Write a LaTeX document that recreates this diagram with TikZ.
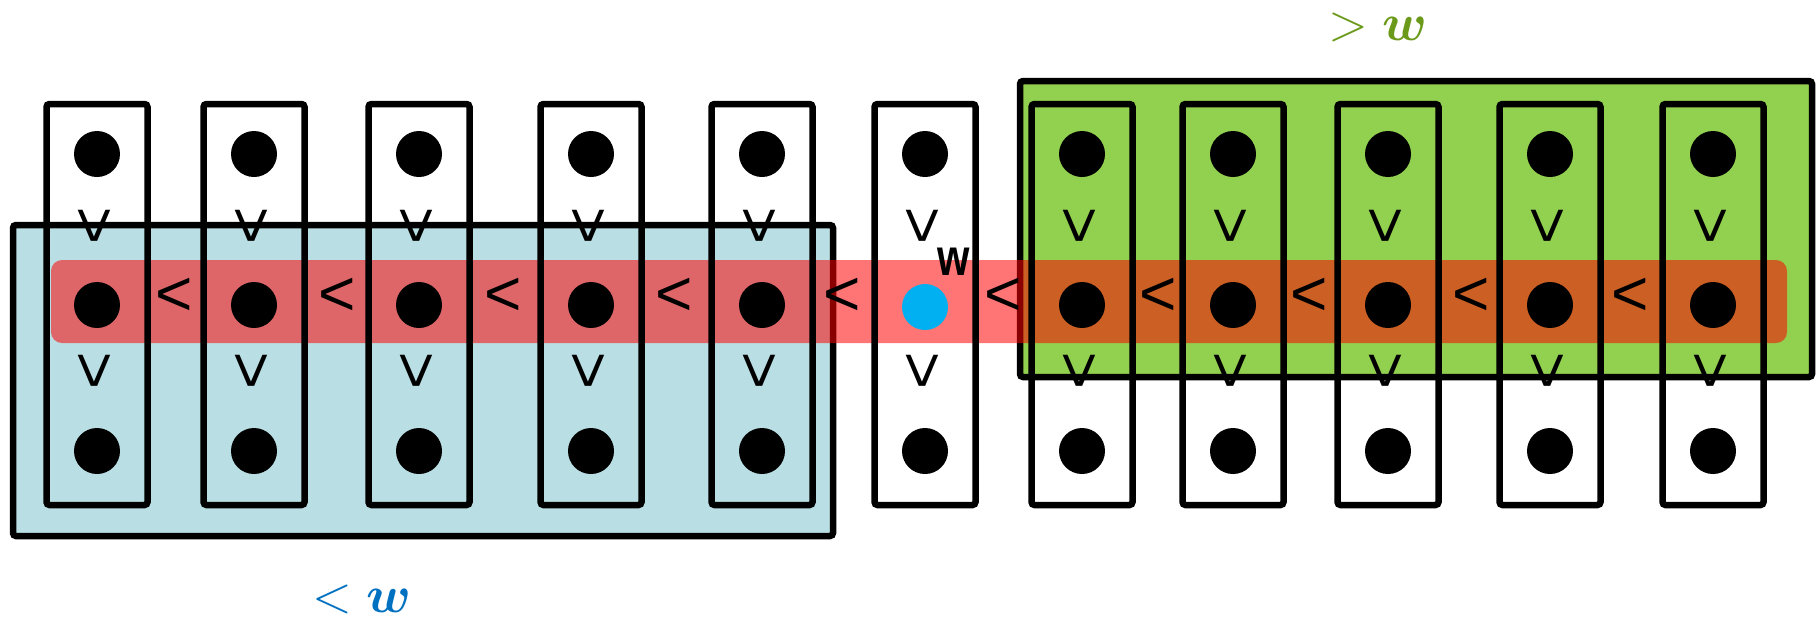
\documentclass[tikz,border=0pt]{standalone}
\usepackage{amsmath}
\usepackage{fontspec}
\setsansfont{Liberation Sans}
\definecolor{lowfill}{HTML}{B9DFE4}
\definecolor{highfill}{HTML}{92D050}
\definecolor{bandred}{HTML}{FF0000}
\definecolor{pivot}{HTML}{00B0F0}
\definecolor{lowtext}{HTML}{0070C0}
\definecolor{hightext}{HTML}{6B9A1A}
\tikzset{
  frame/.style={line width=6.5pt, rounded corners=3pt},
  colbox/.style={frame, draw=black, minimum width=101pt, minimum height=401pt, inner sep=0pt},
  dot/.style={circle, fill=black, minimum size=46pt, inner sep=0pt},
  rel/.style={font=\sffamily\fontsize{64}{64}\selectfont, inner sep=0pt},
  vrel/.style={rel, rotate=90},
  tag/.style={font=\Huge, inner sep=0pt, scale=2.1}
}
\begin{document}
\begin{tikzpicture}[x=1pt, y=-1pt]
\useasboundingbox (0,0) rectangle (1816,622);

% the two halves of the set
\draw[frame, fill=lowfill] (13,225) rectangle (833,536);
\draw[frame, fill=highfill] (1020,81) rectangle (1812,377);

% the middle row band
\fill[bandred, fill opacity=0.54, rounded corners=11pt] (51,260) rectangle (1787,343);

% the columns, each with three elements
\foreach \i/\x in {1/97, 2/254, 3/419, 4/591, 5/762, 6/925, 7/1082, 8/1233, 9/1388, 10/1550, 11/1713} {
  \node[colbox] (col\i) at (\x,304.5) {};
  \node[dot] (top\i) at (\x,154) {};
  \node[dot] (bot\i) at (\x,451) {};
  \node[vrel] (vt\i) at (\x,226) {<};
  \node[vrel] (vb\i) at (\x,371) {<};
}
\foreach \i/\x in {1/97, 2/254, 3/419, 4/591, 5/762, 7/1082, 8/1233, 9/1388, 10/1550, 11/1713} {
  \node[dot] (mid\i) at (\x,305) {};
}
\node[dot, fill=pivot] (mid6) at (925,307) {};
\node[font=\sffamily\bfseries\fontsize{52}{52}\selectfont, inner sep=0pt, xscale=0.8] (wlab) at (954,262) {w};

% relations along the middle row
\foreach \j/\x in {1/174, 2/337, 3/503, 4/674, 5/842, 6/1003, 7/1158, 8/1309, 9/1471, 10/1630} {
  \node[rel] (lt\j) at (\x,297) {<};
}

% labels of the halves
\node[tag, text=hightext] (hi) at (1378,27) {$>\boldsymbol{w}$};
\node[tag, text=lowtext] (lo) at (362,599) {$<\boldsymbol{w}$};
\end{tikzpicture}
\end{document}
